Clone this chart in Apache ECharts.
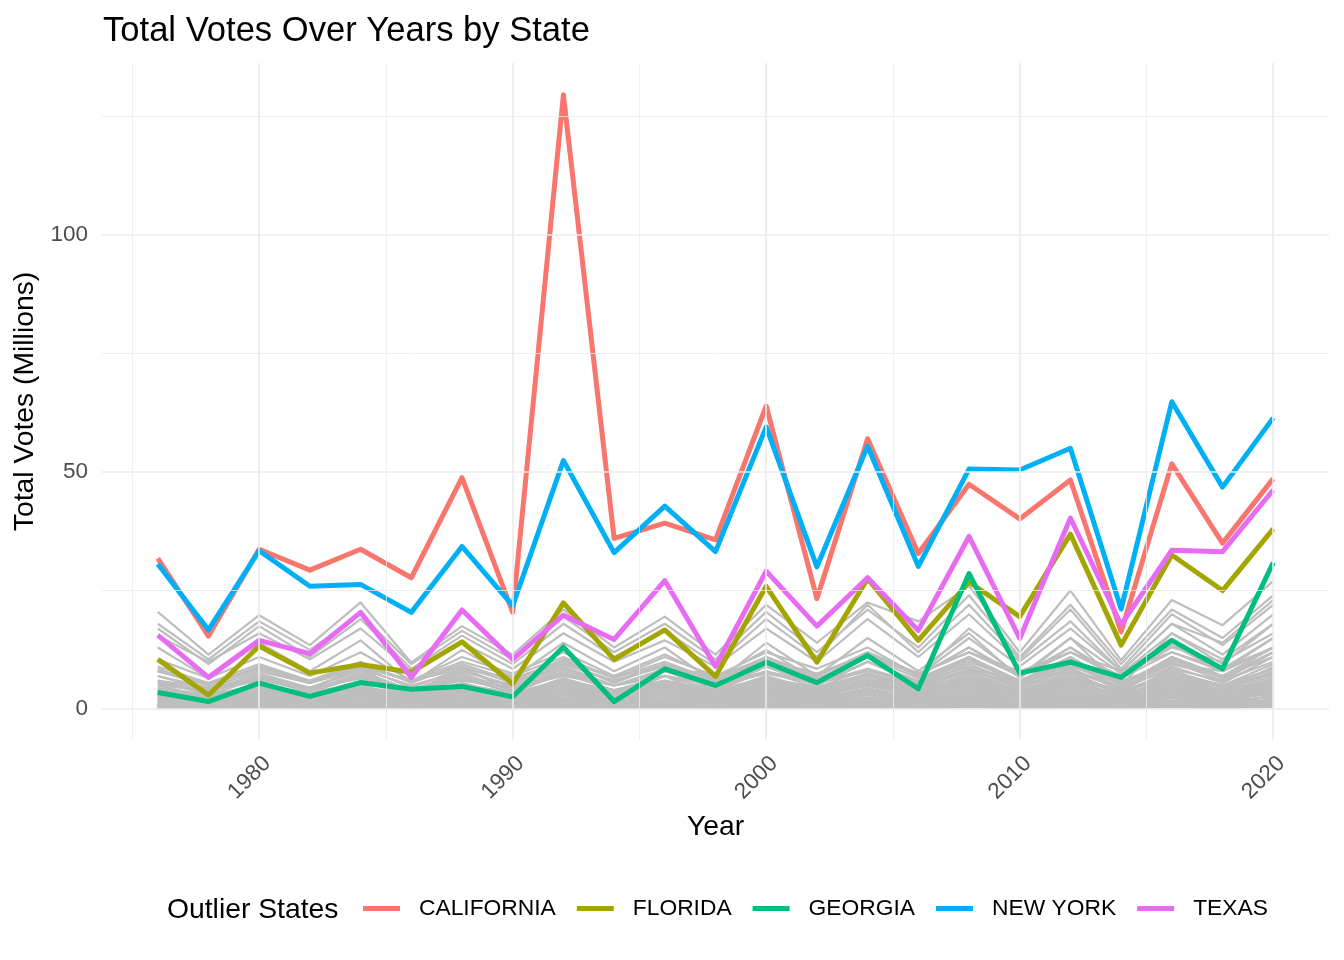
<!DOCTYPE html>
<html>
<head>
<meta charset="utf-8">
<script src="https://cdn.jsdelivr.net/npm/echarts@6/dist/echarts.min.js"></script>
<style>
html,body{margin:0;padding:0;background:#fff;}
#chart{width:1344px;height:960px;}
</style>
</head>
<body>
<div id="chart"></div>
<script>
// Years (x axis)
const years = [1976,1978,1980,1982,1984,1986,1988,1990,1992,1994,1996,1998,2000,2002,2004,2006,2008,2010,2012,2014,2016,2018,2020];

// Outlier states (millions of votes)
const california = [31.8,15.4,33.7,29.3,33.7,27.7,48.8,20.4,129.5,36.0,39.2,35.7,63.9,23.3,57.0,32.8,47.4,40.1,48.3,16.3,51.7,35.0,48.6];
const florida    = [10.5,3.0,13.3,7.6,9.4,7.8,14.2,5.3,22.4,10.5,16.7,6.9,25.9,9.9,27.5,14.5,26.8,19.5,36.9,13.5,32.5,25.0,38.0];
const georgia    = [3.5,1.6,5.5,2.7,5.6,4.2,4.8,2.6,13.1,1.6,8.5,5.0,9.9,5.6,11.3,4.3,28.6,7.6,9.9,6.7,14.5,8.5,30.9];
const newYork    = [30.6,16.7,33.4,25.9,26.3,20.4,34.3,21.8,52.4,33.0,42.8,33.2,59.5,30.0,55.4,30.1,50.6,50.4,55.0,21.1,64.8,46.8,61.4];
const texas      = [15.6,6.7,14.5,11.7,20.4,6.7,20.9,10.5,19.8,14.7,27.1,9.0,29.1,17.5,27.7,16.6,36.4,14.9,40.3,17.8,33.5,33.2,46.2];

// Other states (grey background lines)
const otherStates = [
  ["PENNSYLVANIA",[20.5,11.5,19.8,13.5,22.5,9.8,17.5,11.5,21,13,19.5,11.5,22,14,22.5,18.5,26,12,25,10.3,23,17.7,27]],
  ["ILLINOIS",[18,10.5,18.5,12.5,20,9.5,16.5,10.5,19.5,12,18,10.5,20.5,12,21,13,24,11,22,9.5,21,15,24]],
  ["OHIO",[17,9.5,17.5,11,19,8.5,15.5,9.5,18,11,16.5,9.5,19,11,22,12,22,10.5,21,8.5,20,13.5,22]],
  ["MICHIGAN",[15.5,10,16,10.5,17,8,14,8.5,16,10,14.5,9,17,10,19,11,20,10,18.5,8,18,14,23]],
  ["NEW JERSEY",[13,6.5,14,8,14.5,5.5,12.5,6.5,14,8,13,5.5,14,7,15,8,16,6.5,15,5,16,9.5,18]],
  ["NORTH CAROLINA",[7,4.5,8,5.5,9,6,10,7,11,6.5,11,7,12,8.5,13,7,17,9,17,8,18,11.5,20]],
  ["MASSACHUSETTS",[10.5,6.5,11,7,12,6,11,7.5,12,7,11.5,6.5,12.5,6,12,7,13,7,13,6.5,13.5,8,15]],
  ["VIRGINIA",[6,3.5,7,4.5,8.5,3,9,3.5,10,5.5,9.5,4.5,11,6,12,7,15,7,15,7.5,16,10.5,18]],
  ["WASHINGTON",[5.5,3.5,7,4,7.5,4,8,5,9.5,6,9.5,6,10.5,6.5,11,7.5,12,8,12,7,13,10,16]],
  ["INDIANA",[8.5,5,9,5.5,9,4.5,8.5,4.5,9,5,8.5,4,9,5,10,5.5,11,5,10.5,4,11,6.5,12]],
  ["MISSOURI",[8,5,8.5,5.5,8.5,5,8,5,9.5,6,9,5.5,9.5,6,11,6.5,11,6,11,5,11,7,12]],
  ["WISCONSIN",[8,5,9,6,9.5,6,9,5.5,10,7,9,6.5,11,7,12,7.5,12,7.5,12,8,12,8.5,13]],
  ["MINNESOTA",[8,5.5,8.5,6,9,6,8.5,6.5,10,7,9,7,10.5,7.5,11.5,7.5,12,7,12,6.5,12,8,13]],
  ["TENNESSEE",[6,4.5,6.5,4,7,4,7,4,8,5,8,5,9,5.5,10,6,11,5,10,4,10.5,6.5,12]],
  ["MARYLAND",[5,4,6,4.5,6.5,4,6.5,4.5,7.5,5,7,5,8,5.5,8.5,5.5,10,6,10,5.5,10.5,7,12]],
  ["ARIZONA",[3,2,3.5,2.5,4,2.5,4.5,3,5.5,3.5,5.5,3.5,6,4,7,5,8,5.5,8.5,4.5,9.5,8,13]],
  ["LOUISIANA",[4,2.5,5,2,5,2,5.5,2.5,6.5,2.5,7,2.5,7,3.5,7.5,2,8,3,8,3,8.5,3.5,9]],
  ["ALABAMA",[3.5,2,4.5,3,4.5,3,5,3,6,3.5,5.5,3.5,6.5,4,7,4,7.5,4.5,7.5,3.5,8,5,8.5]],
  ["COLORADO",[3.5,2.5,4.5,3,4.5,3.5,5,3.5,5.5,4,5.5,4,6.5,4.5,7.5,5,8.5,6,9,6,9.5,7,11]],
  ["KENTUCKY",[3.5,1.5,4,2.5,4.5,2,4.5,2,5,3,5,3,5.5,3.5,6,3.5,6.5,3.5,6.5,3.5,7,4,7.5]],
  ["SOUTH CAROLINA",[2.5,2,3,2,3.5,2.5,4,2.5,4.5,3,4.5,3,5,3.5,6,3.5,7,4,7,3.5,7.5,4.5,8.5]],
  ["OKLAHOMA",[3,2,3.5,2.5,4,2.5,4,2.5,4.5,3,4,2.5,4,3,5,3,5,2.5,4.5,2.5,4.5,3,5]],
  ["OREGON",[3,2.5,3.5,2.5,4,2.5,4,3,4.5,3.5,4.5,3.5,5,3.5,5.5,4,6,4,6,4,6.5,5,7.5]],
  ["CONNECTICUT",[4,3,4.5,3.5,4.5,3,4.5,3,5,3.5,4.5,3,5,3.5,5.5,3.5,5.5,3.5,5.5,3,5.5,4,6]],
  ["IOWA",[3.5,2.5,4,3,4,2.5,4,2.5,4.5,3,4,3,4.5,3,5,3,5,3,5,3,5,3.5,5.5]],
  ["MISSISSIPPI",[2,1.5,2.5,1.5,3,2,3,1.5,3.5,2,3.5,2,3.5,2,4,2,4.5,2,4.5,2,4,2.5,4.5]],
  ["KANSAS",[2.5,1.5,3,2,3,2,3,2,3.5,2.5,3,2,3,2,3.5,2,3.5,2,3.5,2.5,3.5,2.5,4]],
  ["ARKANSAS",[2,1.5,2.5,2,2.5,2,2.5,1.5,3,2,3,1.5,3,2,3.5,2,3.5,2,3.5,2,3.5,2,4]],
  ["UTAH",[1.5,1,2,1.5,2,1.5,2,1.5,2.5,1.5,2.5,1.5,2.5,1.5,3,1.5,3,2,3,1.5,3.5,2.5,4.5]],
  ["NEVADA",[0.8,0.6,1,0.7,1.1,0.8,1.2,0.9,1.5,1.1,1.6,1.2,1.8,1.3,2.3,1.5,2.6,1.8,2.8,1.5,3,2.5,3.5]],
  ["NEW MEXICO",[1.2,1,1.4,1.1,1.5,1.1,1.6,1.1,1.8,1.3,1.8,1.3,1.9,1.4,2.1,1.4,2.3,1.5,2.2,1.4,2.3,1.7,2.5]],
  ["NEBRASKA",[1.5,1,1.8,1.2,1.8,1.2,1.7,1.2,2,1.3,1.8,1.2,1.9,1.2,2,1.3,2.2,1.3,2.2,1.4,2.3,1.5,2.6]],
  ["WEST VIRGINIA",[1.5,1,1.7,1.2,1.8,1.1,1.6,0.8,1.7,1.1,1.6,1,1.7,0.9,1.8,1,1.8,1.1,1.8,1,1.8,1.2,2]],
  ["IDAHO",[0.8,0.6,1,0.7,1,0.7,1,0.7,1.1,0.8,1.1,0.8,1.1,0.8,1.3,0.9,1.4,0.9,1.3,0.9,1.4,1.1,1.7]],
  ["HAWAII",[0.6,0.5,0.7,0.5,0.7,0.5,0.7,0.6,0.8,0.6,0.8,0.6,0.8,0.6,0.9,0.6,1,0.7,0.9,0.6,0.9,0.7,1.1]],
  ["MAINE",[0.9,0.7,1,0.8,1,0.8,1,0.8,1.2,0.9,1.1,0.8,1.2,0.9,1.3,1,1.3,1,1.3,1,1.4,1.1,1.5]],
  ["NEW HAMPSHIRE",[0.7,0.5,0.8,0.6,0.8,0.6,0.9,0.6,1,0.7,1,0.7,1.1,0.8,1.2,0.8,1.3,0.9,1.3,0.9,1.4,1,1.5]],
  ["RHODE ISLAND",[0.8,0.6,0.9,0.6,0.9,0.6,0.9,0.6,0.9,0.6,0.8,0.6,0.8,0.6,0.8,0.6,0.9,0.6,0.8,0.5,0.8,0.6,1]],
  ["MONTANA",[0.6,0.5,0.7,0.5,0.7,0.5,0.7,0.5,0.8,0.6,0.8,0.6,0.8,0.6,0.9,0.6,0.9,0.6,0.9,0.6,0.9,0.7,1]],
  ["DELAWARE",[0.4,0.3,0.4,0.3,0.5,0.3,0.5,0.3,0.5,0.4,0.5,0.4,0.5,0.4,0.6,0.4,0.7,0.4,0.7,0.4,0.7,0.5,0.8]],
  ["SOUTH DAKOTA",[0.6,0.4,0.6,0.5,0.6,0.5,0.6,0.5,0.7,0.5,0.6,0.5,0.6,0.5,0.7,0.5,0.7,0.5,0.7,0.5,0.7,0.5,0.8]],
  ["NORTH DAKOTA",[0.5,0.4,0.6,0.4,0.6,0.4,0.5,0.4,0.6,0.4,0.5,0.4,0.6,0.4,0.6,0.4,0.6,0.4,0.6,0.4,0.6,0.4,0.7]],
  ["ALASKA",[0.2,0.2,0.3,0.3,0.3,0.3,0.3,0.3,0.5,0.4,0.4,0.4,0.4,0.4,0.6,0.4,0.6,0.5,0.6,0.5,0.6,0.5,0.7]],
  ["VERMONT",[0.4,0.3,0.4,0.3,0.5,0.3,0.5,0.3,0.5,0.4,0.5,0.4,0.6,0.4,0.6,0.4,0.6,0.4,0.6,0.3,0.6,0.4,0.7]],
  ["WYOMING",[0.3,0.2,0.3,0.2,0.4,0.3,0.4,0.3,0.4,0.3,0.4,0.3,0.4,0.3,0.5,0.3,0.5,0.3,0.5,0.3,0.5,0.3,0.5]],
  ["DISTRICT OF COLUMBIA",[0.3,0.2,0.3,0.2,0.3,0.2,0.3,0.2,0.3,0.2,0.3,0.2,0.3,0.2,0.4,0.2,0.5,0.2,0.4,0.2,0.5,0.3,0.6]]
];

// Further grey lines filling the dense low band
const otherLow = [
  [6,3,6.5,3.5,7,3.5,6.5,3.5,7.5,4,7,4,8,4.5,8.5,5,9.5,5,9.5,4.5,10,6,12],
  [5,2.5,5.5,3,6,3,5.5,3,6.5,3.5,6,3.5,7,4,7.5,4,8.5,4.5,8.5,4,9,5.5,11],
  [4.5,3,5,3.5,5.5,3.5,5,3.5,6,4,6,4,6.5,4.5,7,4.5,8,5,8,4.5,8.5,6,10],
  [4,2,4.5,2.5,5,2.5,5,2.5,5.5,3,5.5,3,6,3.5,6.5,3.5,7,4,7,3.5,7.5,5,9.5],
  [3,1.5,3.5,2,4,2,4,2,4.5,2.5,4.5,2.5,5,3,5.5,3,6,3.5,6,3,6.5,4,8],
  [2.5,1.5,3,1.8,3.5,1.8,3.5,2,4,2.2,4,2.2,4.5,2.5,5,2.5,5.5,3,5.5,2.5,6,3.5,7],
  [2,1.2,2.5,1.5,3,1.5,3,1.6,3.5,1.8,3.5,1.8,4,2,4.5,2,5,2.5,5,2,5.5,3,6.5],
  [1.8,1,2.2,1.2,2.5,1.2,2.5,1.3,3,1.5,3,1.5,3.5,1.7,4,1.8,4.5,2,4.5,1.8,5,2.5,6],
  [1.5,0.8,1.8,1,2,1,2,1.1,2.5,1.2,2.5,1.2,3,1.4,3.5,1.5,4,1.7,4,1.5,4.5,2.2,5.5],
  [1.2,0.7,1.5,0.8,1.7,0.8,1.7,0.9,2,1,2,1,2.5,1.2,3,1.3,3.5,1.5,3.5,1.3,4,1.8,5],
  [1,0.5,1.2,0.6,1.4,0.6,1.4,0.7,1.7,0.8,1.7,0.8,2,1,2.5,1.1,3,1.2,3,1.1,3.5,1.5,4.5],
  [0.8,0.4,1,0.5,1.1,0.5,1.1,0.5,1.4,0.6,1.4,0.6,1.6,0.8,2,0.9,2.5,1,2.5,0.9,3,1.2,4],
  [5.5,4,6,4.5,6.5,4,6,4.5,7,5,7,5,7.5,5.5,8,5.5,9,6,9,5.5,9.5,7,11],
  [7,4,7.5,4.5,8,4,7.5,4,8.5,5,8,4.5,9,5,10,5.5,10.5,5.5,10.5,5,11,7,13],
  [2.8,2.2,3.2,2.4,3.6,2.4,3.6,2.5,4,2.8,4,2.8,4.4,3,5,3.2,5.5,3.5,5.5,3.2,6,4.2,7.5],
  [3.8,2.8,4.2,3,4.6,3,4.6,3.2,5,3.5,5,3.5,5.5,3.8,6,4,6.5,4.2,6.5,4,7,5,8.5],
  [0.5,0.3,0.7,0.3,0.8,0.4,0.8,0.4,1,0.4,1,0.4,1.2,0.5,1.5,0.6,2,0.7,2,0.6,2.5,0.8,3],
  [1.3,1,1.5,1.1,1.6,1.1,1.6,1.1,1.8,1.2,1.8,1.2,2,1.3,2.2,1.4,2.6,1.5,2.6,1.4,2.8,1.8,3.3],
  [9,5.5,9.5,6,10,5.5,9.5,6,10.5,6.5,10,6,11,7,12,7,13,7,13,6.5,13.5,8.5,15],
  [2.2,1.7,2.6,2,3,2,3,2.1,3.3,2.3,3.3,2.3,3.6,2.5,4,2.6,4.4,2.8,4.4,2.6,4.8,3.3,5.8]
];

const outlierNames  = ["CALIFORNIA","FLORIDA","GEORGIA","NEW YORK","TEXAS"];
const outlierValues = [california, florida, georgia, newYork, texas];
const outlierColors = ["#F8766D","#A3A500","#00BF7D","#00B0F6","#E76BF3"];

// Gridline positions (axis values)
const xMajor = [1980,1990,2000,2010,2020];
const xMinor = [1975,1985,1995,2005,2015];
const yMajor = [0,50,100];
const yMinor = [25,75,125];

const FONT = '"Liberation Sans", Arial, sans-serif';
const pairs = vals => years.map((y,i)=>[y, vals[i]]);

const gridData = [];
xMinor.forEach(v=>gridData.push({xAxis:v, lineStyle:{width:0.8}}));
yMinor.forEach(v=>gridData.push({yAxis:v, lineStyle:{width:0.8}}));
xMajor.forEach(v=>gridData.push({xAxis:v, lineStyle:{width:1.6}}));
yMajor.forEach(v=>gridData.push({yAxis:v, lineStyle:{width:1.6}}));

const series = [{
  type:'line', name:'_grid', data:[], z:1, silent:true,
  markLine:{
    silent:true, symbol:'none', animation:false,
    label:{show:false},
    lineStyle:{color:'#EBEBEB', type:'solid'},
    emphasis:{disabled:true},
    data:gridData
  }
}];

const greyLine = (name, vals) => ({
  type:'line', name:name, data:pairs(vals), z:2,
  showSymbol:false, symbol:'none', silent:true,
  lineStyle:{color:'#BEBEBE', width:2.2, join:'round'},
  emphasis:{disabled:true}
});
otherStates.forEach(([name, vals])=>series.push(greyLine(name, vals)));
otherLow.forEach((vals,i)=>series.push(greyLine('_other' + i, vals)));

outlierNames.forEach((name,i)=>{
  series.push({
    type:'line', name:name, data:pairs(outlierValues[i]), z:3,
    showSymbol:false, symbol:'none', silent:true,
    color:outlierColors[i],
    lineStyle:{color:outlierColors[i], width:5, join:'round'},
    emphasis:{disabled:true}
  });
});

const isMult = (v,m)=>Math.abs(v - Math.round(v/m)*m) < 1e-6;

const chart = echarts.init(document.getElementById('chart'), null, {renderer:'canvas'});
chart.setOption({
  animation:false,
  backgroundColor:'#ffffff',
  title:[
    {text:'Total Votes Over Years by State', left:98, top:9,
     textStyle:{fontFamily:FONT, fontSize:34.6, fontWeight:'normal', color:'#000'}},
    {text:'Outlier States', left:162, top:891,
     textStyle:{fontFamily:FONT, fontSize:28.3, fontWeight:'normal', color:'#000'}}
  ],
  legend:{
    data:outlierNames, orient:'horizontal', left:363, top:897, padding:0,
    icon:'rect', itemWidth:37, itemHeight:5, itemGap:21,
    selectedMode:false,
    textStyle:{fontFamily:FONT, fontSize:22.8, color:'#000', padding:[0,0,0,14]}
  },
  grid:{left:102, right:15, top:63, bottom:220, containLabel:false, outerBoundsMode:'none'},
  xAxis:{
    type:'value', min:1973.8, max:2022.2, splitNumber:5,
    name:'Year', nameLocation:'middle', nameGap:73,
    nameTextStyle:{fontFamily:FONT, fontSize:28.3, color:'#000'},
    axisLine:{show:false}, axisTick:{show:false}, splitLine:{show:false},
    axisLabel:{
      rotate:45, margin:12, verticalAlign:'top',
      fontFamily:FONT, fontSize:22.5, color:'#4D4D4D',
      showMinLabel:false, showMaxLabel:false,
      formatter:v=> isMult(v,10) ? String(Math.round(v)) : ''
    }
  },
  yAxis:{
    type:'value', min:-6.5, max:136.2, splitNumber:3,
    name:'Total Votes (Millions)', nameLocation:'middle', nameGap:57, nameRotate:90,
    nameTextStyle:{fontFamily:FONT, fontSize:28.3, color:'#000'},
    axisLine:{show:false}, axisTick:{show:false}, splitLine:{show:false},
    axisLabel:{
      margin:14, fontFamily:FONT, fontSize:22.5, color:'#4D4D4D',
      showMinLabel:false, showMaxLabel:false,
      formatter:v=> isMult(v,50) ? String(Math.round(v)) : ''
    }
  },
  tooltip:{show:false},
  series:series
});
</script>
</body>
</html>
